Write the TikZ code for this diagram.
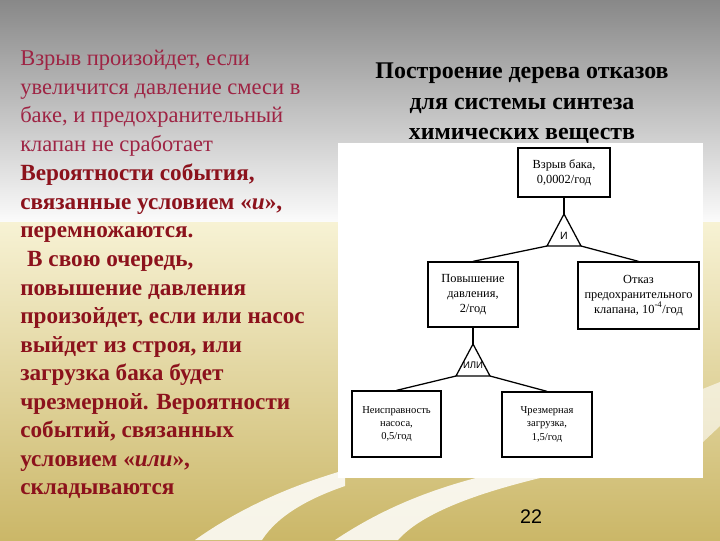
\documentclass[tikz,border=0pt]{standalone}
\usepackage{fontspec}
\setmainfont{Liberation Serif}
\newfontfamily\sansru{Liberation Sans}
\usetikzlibrary{shapes.geometric}

\definecolor{textred}{RGB}{158,36,68}
\definecolor{textdark}{RGB}{140,18,28}
\definecolor{skygray}{RGB}{136,136,136}
\definecolor{sandtop}{RGB}{247,242,212}
\definecolor{sandbot}{RGB}{203,183,104}

\begin{document}
\begin{tikzpicture}[x=0.025cm, y=-0.025cm,
		event/.style={draw, line width=0.9pt, inner sep=1pt, align=center, font=\fontsize{8.8}{10.6}\selectfont},
		basic/.style={event, font=\fontsize{7.5}{9.3}\selectfont},
		gate/.style={draw, line width=0.9pt, isosceles triangle, isosceles triangle stretches, shape border rotate=90, minimum width=0.85cm, minimum height=0.8cm, inner sep=0pt, outer sep=0pt},
		gatelbl/.style={inner sep=0pt, font=\sansru\fontsize{7.5}{7.5}\selectfont},
		link/.style={line width=0.9pt}]
	\useasboundingbox (0,0) rectangle (720,540);
	
	% Фон
	\fill[top color=skygray, bottom color=white!97!gray] (0,0) rectangle (720,222);
	\fill[top color=sandtop, bottom color=sandbot] (0,222) rectangle (720,540);
	\fill[white, opacity=.85] (195,540) .. controls (240,508) and (290,486) .. (345,470) -- (345,486) .. controls (310,498) and (278,515) .. (262,540) -- cycle;
	\fill[white, opacity=.85] (335,540) .. controls (380,510) and (430,488) .. (500,472) -- (540,478) .. controls (470,495) and (420,515) .. (398,540) -- cycle;
	\fill[white, opacity=.6] (700,390) -- (720,382) -- (720,426) -- (702,443) -- cycle;
	
	% Текст слева
	\node[anchor=north west, align=left, inner sep=0pt, text=textred, font=\fontsize{16}{20.3}\selectfont] (story) at (20,50) {Взрыв произойдет, если\\увеличится давление смеси в\\баке, и предохранительный\\клапан не сработает};
	\node[anchor=north west, align=left, inner sep=0pt, text=textdark, font=\bfseries\fontsize{16.5}{20.3}\selectfont] (rule) at (20,164) {Вероятности события,\\связанные условием «\textit{и}»,\\перемножаются.\\\hspace{0.3em}В свою очередь,\\повышение давления\\произойдет, если или насос\\выйдет из строя, или\\загрузка бака будет\\чрезмерной. Вероятности\\событий, связанных\\условием «\textit{или}»,\\складываются};
	
	% Заголовок
	\node[anchor=north, align=center, inner sep=0pt, font=\bfseries\fontsize{17}{21.5}\selectfont] (title) at (522,63) {Построение дерева отказов\\для системы синтеза\\химических веществ};
	
	% Дерево отказов
	\fill[white] (338,143) rectangle (703,478);
	\node[event, minimum width=2.3cm, minimum height=1.225cm] (blast) at (564,172.5) {Взрыв бака,\\0,0002/год};
	\node[gate, anchor=apex] (and) at (564,214) {};
	\node[gatelbl] (andlbl) at (564,236) {И};
	\node[event, minimum width=2.25cm, minimum height=1.625cm] (press) at (473,294.5) {Повышение\\давления,\\2/год};
	\node[event, minimum width=3.025cm, minimum height=1.675cm] (valve) at (638.5,295.5) {Отказ\\предохранительного\\клапана, 10\textsuperscript{-4}/год};
	\node[gate, anchor=apex] (or) at (473,344) {};
	\node[gatelbl, font=\sansru\fontsize{6.8}{6.8}\selectfont] (orlbl) at (473,365) {ИЛИ};
	\node[basic, minimum width=2.225cm, minimum height=1.65cm] (pump) at (396.5,424) {Неисправность\\насоса,\\0,5/год};
	\node[basic, minimum width=2.25cm, minimum height=1.625cm] (load) at (547,424.5) {Чрезмерная\\загрузка,\\1,5/год};
	
	\draw[link] (blast.south) -- (and.apex);
	\draw[link] (and.left corner) -- (press.north);
	\draw[link] (and.right corner) -- (valve.north);
	\draw[link] (press.south) -- (or.apex);
	\draw[link] (or.left corner) -- (pump.north);
	\draw[link] (or.right corner) -- (load.north);
	
	\node[font=\sansru\fontsize{14}{14}\selectfont] (pagenum) at (531,517) {22};
\end{tikzpicture}
\end{document}
